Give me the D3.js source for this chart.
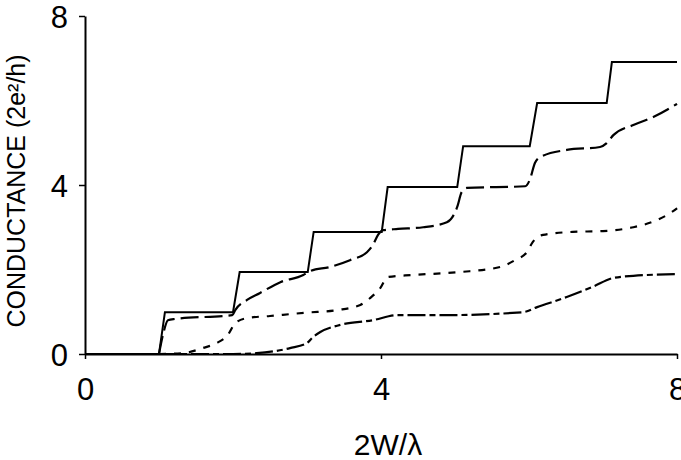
<!DOCTYPE html>
<html>
<head>
<meta charset="utf-8">
<script src="https://cdn.jsdelivr.net/npm/d3@7"></script>
<style>
  body { margin: 0; background: #fff; }
  svg text { font-family: "Liberation Sans", Arial, sans-serif; fill: #000; }
</style>
</head>
<body>
<div id="chart"></div>
<script>
// tick values
const xTicks = [0, 4, 8];
const yTicks = [0, 4, 8];

// [2W/lambda, conductance]
const idealSteps = [[0, 0], [1.0, 0], [1.08, 0.99], [2.0, 0.99], [2.09, 1.94], [3.01, 1.94], [3.09, 2.89],
  [4.01, 2.89], [4.09, 3.95], [5.03, 3.95], [5.11, 4.92], [6.01, 4.92], [6.11, 5.94], [7.05, 5.94],
  [7.12, 6.91], [8.0, 6.91]];

const longDash = [[1.0, 0], [1.06, 0.5], [1.12, 0.8], [1.22, 0.83], [1.99, 0.92], [2.03, 1.04], [2.19, 1.28],
  [2.36, 1.44], [2.64, 1.70], [2.95, 1.87], [3.04, 1.96], [3.31, 2.06], [3.58, 2.22], [3.81, 2.41],
  [3.89, 2.58], [3.96, 2.82], [4.03, 2.93], [4.23, 2.96], [4.57, 3.0], [4.89, 3.12], [5.03, 3.48],
  [5.09, 3.83], [5.16, 3.93], [5.95, 3.97], [6.01, 4.12], [6.08, 4.52], [6.15, 4.66], [6.51, 4.83],
  [6.96, 4.9], [7.05, 4.99], [7.14, 5.18], [7.41, 5.42], [7.68, 5.61], [8.0, 5.92]];

const shortDash = [[1.0, 0], [1.32, 0.02], [1.59, 0.14], [1.78, 0.26], [1.93, 0.45], [2.03, 0.73],
  [2.19, 0.85], [2.5, 0.9], [3.0, 0.98], [3.41, 1.04], [3.72, 1.16], [3.85, 1.32], [3.99, 1.56],
  [4.09, 1.82], [4.43, 1.87], [5.07, 1.94], [5.61, 2.06], [5.81, 2.22], [5.97, 2.41], [6.05, 2.65],
  [6.19, 2.82], [6.59, 2.89], [7.0, 2.91], [7.41, 3.0], [7.73, 3.17], [7.93, 3.36], [8.0, 3.45]];

const dashDot = [[1.0, 0], [2.0, 0], [2.32, 0.02], [2.77, 0.14], [3.0, 0.26], [3.08, 0.40], [3.18, 0.52],
  [3.45, 0.69], [3.89, 0.80], [4.22, 0.92], [4.89, 0.92], [5.92, 0.99], [6.11, 1.11], [6.51, 1.35],
  [6.86, 1.59], [7.14, 1.8], [7.41, 1.85], [8.0, 1.89]];

const w = 681;
const h = 460;

const svg = d3.select("#chart").append("svg")
  .attr("width", w)
  .attr("height", h);

const xScale = d3.scaleLinear().domain([0, 8]).range([85, 677]);
const yScale = d3.scaleLinear().domain([0, 8]).range([354, 16]);

const line = d3.line()
  .x(d => xScale(d[0]))
  .y(d => yScale(d[1]));

svg //ideal staircase
  .append("path")
  .attr("d", line.curve(d3.curveLinear)(idealSteps))
  .attr("fill", "none")
  .attr("stroke", "#000")
  .attr("stroke-width", 2);

svg //long dashes
  .append("path")
  .attr("d", line.curve(d3.curveMonotoneX)(longDash))
  .attr("fill", "none")
  .attr("stroke", "#000")
  .attr("stroke-width", 2.2)
  .attr("stroke-dasharray", "18,6");

svg //short dashes
  .append("path")
  .attr("d", line.curve(d3.curveMonotoneX)(shortDash))
  .attr("fill", "none")
  .attr("stroke", "#000")
  .attr("stroke-width", 2.2)
  .attr("stroke-dasharray", "7,8");

svg //dash dot
  .append("path")
  .attr("d", line.curve(d3.curveMonotoneX)(dashDot))
  .attr("fill", "none")
  .attr("stroke", "#000")
  .attr("stroke-width", 2.2)
  .attr("stroke-dasharray", "18,4,6,4");

svg //x-axis
  .append("g")
  .attr("transform", "translate(0," + yScale(0) + ")")
  .call(d3.axisBottom(xScale).tickValues(xTicks).tickSize(5).tickSizeOuter(0).tickFormat(d3.format("d")))
  .call(g => g.attr("font-size", null).attr("font-family", null))
  .call(g => g.select(".domain").attr("stroke-width", 2))
  .call(g => g.selectAll(".tick line").attr("stroke-width", 1.5))
  .call(g => g.selectAll("text").attr("y", 46).attr("dy", null).style("font-size", "31px"));

svg //y-axis
  .append("g")
  .attr("transform", "translate(" + xScale(0) + ",0)")
  .call(d3.axisLeft(yScale).tickValues(yTicks).tickSize(6).tickPadding(11).tickSizeOuter(0).tickFormat(d3.format("d")))
  .call(g => g.attr("font-size", null).attr("font-family", null))
  .call(g => g.select(".domain").attr("stroke-width", 2))
  .call(g => g.selectAll(".tick line").attr("stroke-width", 1.5))
  .call(g => g.selectAll("text").attr("dy", "0.36em").style("font-size", "31px"));

svg //y-axis label
  .append("text")
  .attr("transform", "translate(25,191) rotate(-90)")
  .attr("text-anchor", "middle")
  .style("font-size", "25px")
  .text("CONDUCTANCE (2e²/h)");

svg //x-axis label
  .append("text")
  .attr("x", 388)
  .attr("y", 455)
  .attr("text-anchor", "middle")
  .style("font-size", "30px")
  .text("2W/λ");
</script>
</body>
</html>
